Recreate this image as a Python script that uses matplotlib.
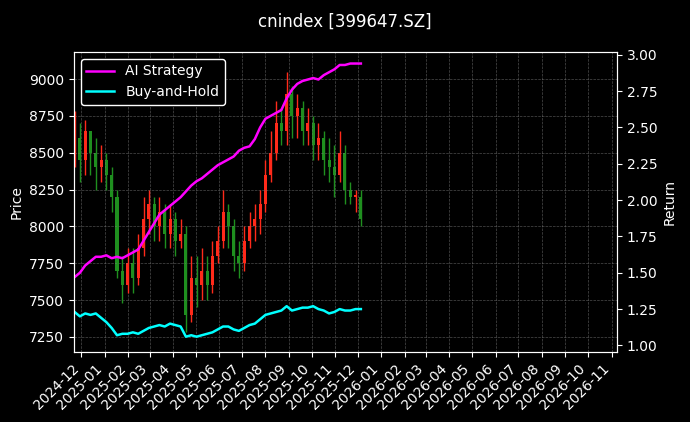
import matplotlib
matplotlib.use("Agg")
import matplotlib.pyplot as plt
import matplotlib.dates as mdates
import pandas as pd

dates = pd.date_range("2024-11-22", periods=55, freq="7D")
close = [8600,8450,8650,8500,8400,8450,8350,8200,7700,7600,7750,7650,7850,8050,8150,8000,8100,7950,8050,7900,
         7950,7400,7650,7600,7700,7600,7800,7900,8100,8000,7800,7750,7900,8000,8050,8150,8350,8500,8700,8650,
         8900,8750,8800,8650,8700,8550,8600,8450,8400,8350,8500,8250,8200,8200,8050]
opens = [8500,8600,8450,8650,8500,8400,8450,8350,8200,7700,7600,7750,7650,7850,8050,8150,8000,8100,7950,8050,
         7900,7950,7400,7650,7600,7700,7600,7800,7900,8100,8000,7800,7750,7900,8000,8050,8150,8350,8500,8700,
         8650,8900,8750,8800,8650,8700,8550,8600,8450,8400,8350,8500,8250,8200,8200]
high = [8780,8700,8720,8650,8600,8550,8500,8400,8250,7800,7850,7850,7950,8200,8250,8200,8200,8150,8150,8100,
        8050,8000,7800,7800,7850,7800,7900,8000,8250,8150,8050,7900,8000,8100,8150,8250,8450,8650,8850,8800,
        9050,8950,8900,8850,8800,8750,8700,8650,8600,8550,8650,8550,8300,8250,8250]
low = [8400,8300,8350,8350,8250,8300,8250,8100,7650,7480,7550,7550,7600,7800,7950,7900,7900,7850,7850,7800,
       7850,7280,7350,7450,7500,7500,7550,7750,7850,7850,7700,7650,7700,7850,7900,7950,8100,8300,8450,8550,
       8550,8600,8600,8550,8550,8450,8450,8350,8300,8200,8300,8150,8150,8100,8000]
ai = [1.47,1.50,1.55,1.58,1.61,1.61,1.62,1.60,1.61,1.60,1.62,1.64,1.66,1.72,1.78,1.84,1.90,1.93,1.96,1.99,
      2.02,2.06,2.10,2.13,2.15,2.18,2.21,2.24,2.26,2.28,2.30,2.34,2.36,2.37,2.42,2.50,2.56,2.58,2.60,2.62,
      2.70,2.76,2.80,2.82,2.83,2.84,2.83,2.86,2.88,2.90,2.93,2.93,2.94,2.94,2.94]
bh = [1.23,1.20,1.22,1.21,1.22,1.19,1.16,1.12,1.07,1.08,1.08,1.09,1.08,1.10,1.12,1.13,1.14,1.13,1.15,1.14,
      1.13,1.06,1.07,1.06,1.07,1.08,1.09,1.11,1.13,1.13,1.11,1.10,1.12,1.14,1.15,1.18,1.21,1.22,1.23,1.24,
      1.27,1.24,1.25,1.26,1.26,1.27,1.25,1.24,1.22,1.23,1.25,1.24,1.24,1.25,1.25]

plt.rcParams.update({"text.color": "white", "axes.labelcolor": "white",
                     "xtick.color": "white", "ytick.color": "white", "axes.edgecolor": "white"})
fig = plt.figure(figsize=(6.9, 4.22), dpi=100, facecolor="black")
ax = fig.add_axes([0.107, 0.166, 0.787, 0.711], facecolor="black")
ax2 = ax.twinx()

x = mdates.date2num(dates)
for xi, o, h, l, c in zip(x, opens, high, low, close):
    col = "#ff2a1a" if c >= o else "#1f8f1f"
    ax.vlines(xi, l, h, color=col, lw=1)
    ax.bar(xi, abs(c - o) if c != o else 10, bottom=min(o, c), width=4, color=col, lw=0)

ax2.plot(dates, ai, color="#ff00ff", lw=1.8, label="AI Strategy")
ax2.plot(dates, bh, color="#00ffff", lw=1.8, label="Buy-and-Hold")

ax.set_ylim(7148, 9184)
ax2.set_ylim(0.955, 3.02)
ax.set_xlim(mdates.datestr2num("2024-11-21"), mdates.datestr2num("2026-11-08"))
ax.xaxis.set_major_locator(mdates.MonthLocator())
ax.xaxis.set_major_formatter(mdates.DateFormatter("%Y-%m"))
plt.setp(ax.get_xticklabels(), rotation=45, ha="right")
ax.grid(True, color="gray", ls="--", lw=0.5, alpha=0.6)
ax.set_ylabel("Price")
ax2.set_ylabel("Return")
leg = ax2.legend(loc="upper left", facecolor="black", edgecolor="white", framealpha=1)
for t in leg.get_texts():
    t.set_color("white")
fig.suptitle("cnindex [399647.SZ]", color="white", fontsize=12, y=0.97)
fig.savefig("out.png", facecolor="black")
